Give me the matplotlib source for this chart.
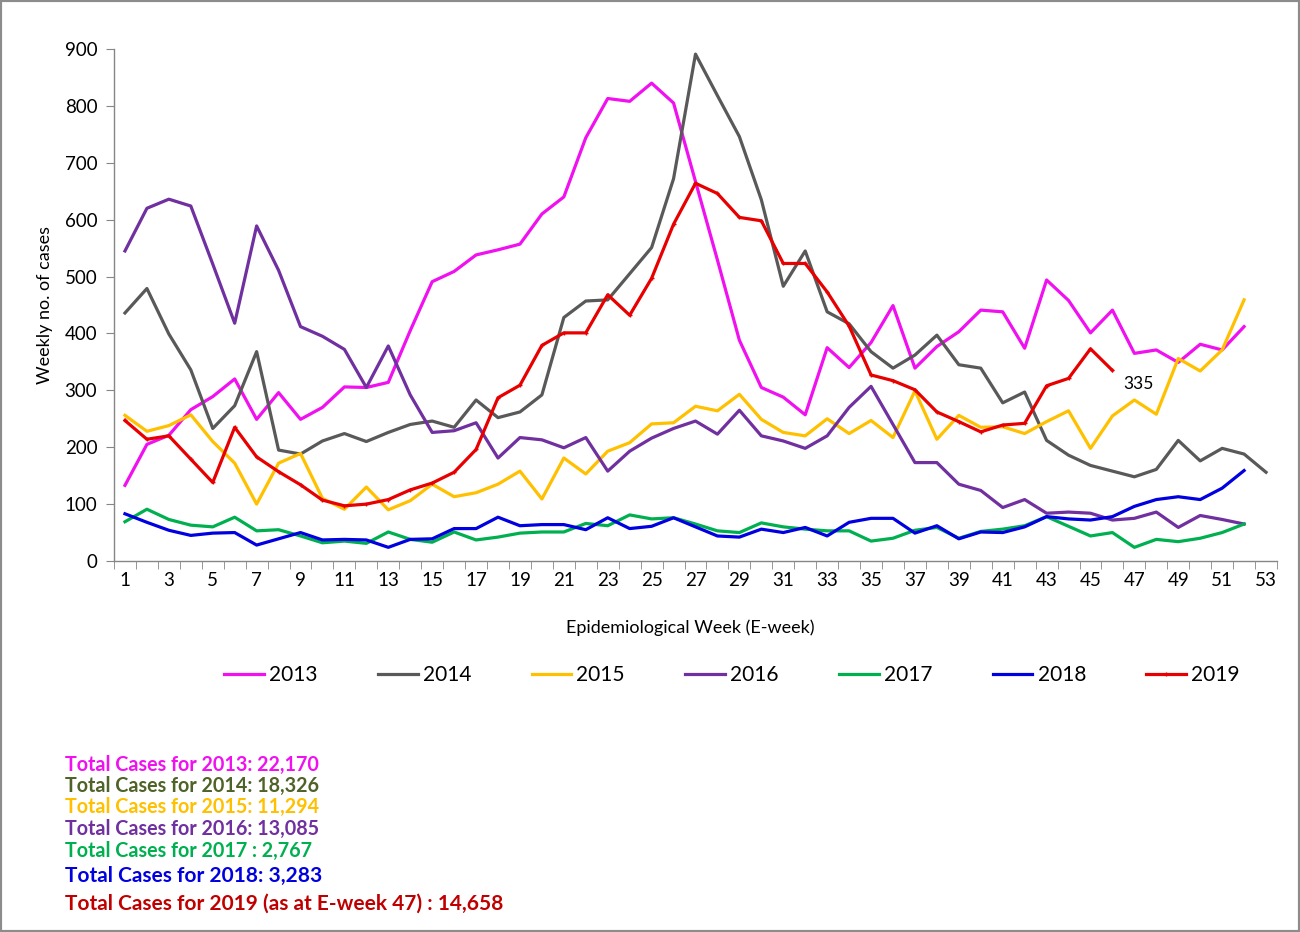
import matplotlib
matplotlib.use("Agg")
import matplotlib.pyplot as plt
from matplotlib.lines import Line2D
from matplotlib.patches import Rectangle

years = ["2013", "2014", "2015", "2016", "2017", "2018", "2019"]

c2013 = [133, 205, 221, 266, 289, 320, 249, 296, 249, 270, 306, 305, 314, 405, 491, 509, 538, 547, 557, 610,
         640, 744, 813, 808, 840, 805, 667, 529, 388, 305, 288, 257, 375, 340, 384, 449, 339, 377, 403, 441,
         438, 374, 494, 458, 401, 441, 365, 371, 349, 381, 371, 412]
c2014 = [436, 479, 399, 336, 233, 273, 368, 195, 188, 211, 224, 210, 226, 240, 246, 235, 283, 252, 262, 292,
         428, 457, 459, 505, 551, 672, 891, 818, 746, 635, 483, 545, 438, 417, 368, 339, 362, 397, 345, 339,
         278, 297, 212, 186, 168, 158, 148, 161, 212, 176, 198, 188, 156]
c2015 = [256, 228, 238, 257, 210, 172, 100, 172, 189, 110, 91, 130, 90, 106, 135, 113, 120, 135, 158, 109,
         181, 153, 193, 208, 241, 243, 272, 264, 293, 249, 226, 220, 250, 224, 247, 217, 299, 214, 256, 235,
         236, 224, 245, 264, 198, 255, 283, 258, 356, 334, 371, 459]
c2016 = [545, 620, 636, 624, 522, 418, 589, 511, 412, 395, 372, 305, 378, 292, 226, 229, 243, 181, 217, 213,
         199, 217, 158, 193, 216, 233, 246, 223, 265, 220, 211, 198, 220, 270, 307, 240, 173, 173, 135, 124,
         94, 108, 84, 86, 84, 72, 75, 86, 59, 80, 73, 65]
c2017 = [69, 91, 73, 63, 60, 77, 53, 55, 44, 32, 35, 31, 51, 38, 33, 51, 37, 42, 49, 51,
         51, 66, 62, 81, 74, 76, 65, 53, 50, 67, 60, 56, 53, 53, 35, 40, 54, 59, 40, 52,
         56, 62, 78, 61, 44, 50, 24, 38, 34, 40, 50, 65]
c2018 = [83, 68, 54, 45, 49, 50, 28, 39, 50, 37, 38, 37, 24, 38, 39, 57, 57, 77, 62, 64,
         64, 55, 76, 57, 61, 76, 60, 44, 42, 56, 50, 59, 44, 68, 75, 75, 49, 62, 39, 51,
         50, 60, 78, 74, 72, 78, 96, 108, 113, 108, 128, 159]
c2019 = [247, 214, 220, 179, 138, 235, 183, 157, 134, 107, 97, 100, 108, 125, 137, 156, 196, 287, 309, 379,
         401, 401, 468, 432, 497, 592, 664, 646, 604, 598, 523, 523, 473, 413, 327, 317, 301, 262, 245, 227,
         239, 242, 308, 321, 373, 335]

series = [c2013, c2014, c2015, c2016, c2017, c2018, c2019]
colors = ["#F010F0", "#595959", "#FFC000", "#7030A0", "#00B050", "#0000E0", "#E80000"]

totals_text = ["Total Cases for 2013: 22,170",
               "Total Cases for 2014: 18,326",
               "Total Cases for 2015: 11,294",
               "Total Cases for 2016: 13,085",
               "Total Cases for 2017 : 2,767",
               "Total Cases for 2018: 3,283",
               "Total Cases for 2019 (as at E-week 47) : 14,658"]
totals_colors = ["#F010F0", "#4F6228", "#FFC000", "#7030A0", "#00B050", "#0000E0", "#C00000"]

last_label = "335"

FONT = ["Lato", "DejaVu Sans"]
plt.rcParams["font.family"] = FONT

fig = plt.figure(figsize=(13, 9.32), dpi=100)
ax = fig.add_axes([114/1300, 1 - 561/932, (1277-114)/1300, (561-49)/932])

for vals, col, yr in zip(series, colors, years):
    weeks = list(range(1, len(vals) + 1))
    if yr == "2019":
        ax.plot(weeks, vals, color=col, lw=2.3, marker="+", ms=3.5, mew=1.0, label=yr)
    else:
        ax.plot(weeks, vals, color=col, lw=2.3, label=yr)

ax.annotate(last_label, xy=(len(c2019), c2019[-1]), xytext=(8, -10), textcoords="offset points",
            fontsize=12.5, color="black", va="center", ha="left")

ax.set_xlim(0.5, 53.5)
ax.set_ylim(0, 900)
ax.set_yticks(range(0, 901, 100))
ax.set_xticks(range(1, 54, 2))
ax.set_xticks([w + 0.5 for w in range(0, 54)], minor=True)
ax.tick_params(axis="x", which="major", length=0, labelsize=13.5, pad=8)
ax.tick_params(axis="x", which="minor", length=6, color="#868686", direction="out")
ax.tick_params(axis="y", length=6, color="#868686", labelsize=13.5, direction="out", pad=6)
for s in ["top", "right"]:
    ax.spines[s].set_visible(False)
for s in ["left", "bottom"]:
    ax.spines[s].set_color("#868686")
    ax.spines[s].set_linewidth(1.0)

fig.text(45/1300, 1 - 305/932, "Weekly no. of cases", rotation=90, ha="center", va="center", fontsize=13)
fig.text(690/1300, 1 - 628/932, "Epidemiological Week (E-week)", ha="center", va="center", fontsize=13)

handles = [Line2D([0], [0], color=c, lw=2.3) for c in colors[:-1]]
handles.append(Line2D([0], [0], color=colors[-1], lw=2.3, marker="+", ms=3.5, mew=1.0))
fig.legend(handles, years, loc="center", bbox_to_anchor=(732/1300, 1 - 675/932), ncol=7,
           frameon=False, fontsize=15, handlelength=1.9, handletextpad=0.25, columnspacing=2.9)

ys = [765, 786, 807, 829, 851, 876, 904]
sizes = [14.2, 14.2, 14.2, 14.2, 14.2, 15, 15]
for t, c, y, s in zip(totals_text, totals_colors, ys, sizes):
    fig.text(65/1300, 1 - y/932, t, color=c, fontsize=s, fontweight="bold", ha="left", va="center")

fig.patches.append(Rectangle((0, 0), 1, 1, transform=fig.transFigure, fill=False,
                             edgecolor="#8C8C8C", lw=3, zorder=10))

fig.savefig("out.png", dpi=100)
